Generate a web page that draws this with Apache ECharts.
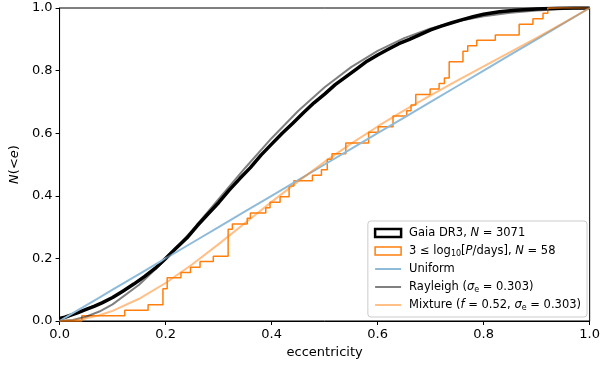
<!DOCTYPE html>
<html>
<head>
<meta charset="utf-8">
<script src="https://cdn.jsdelivr.net/npm/echarts@6/dist/echarts.min.js"></script>
<style>html,body{margin:0;padding:0;background:#fff;}#c{width:603px;height:369px;}</style>
</head>
<body>
<div id="c"></div>
<script>
// ---- data ----
const xTicks = [0.0, 0.2, 0.4, 0.6, 0.8, 1.0];
const yTicks = [0.0, 0.2, 0.4, 0.6, 0.8, 1.0];

// Gaia DR3 cumulative distribution (N = 3071)
const gaiaE = [0, 0.01, 0.02, 0.035, 0.05, 0.065, 0.08, 0.1, 0.12, 0.14, 0.16, 0.18, 0.2, 0.22, 0.24, 0.26, 0.28, 0.3, 0.32, 0.34, 0.36, 0.38, 0.4, 0.42, 0.44, 0.46, 0.48, 0.5, 0.52, 0.54, 0.56, 0.58, 0.6, 0.62, 0.64, 0.66, 0.68, 0.7, 0.72, 0.74, 0.76, 0.78, 0.8, 0.83, 0.86, 0.9, 0.94, 0.97, 1.0];
const gaiaCum = [0.008, 0.012, 0.018, 0.027, 0.037, 0.047, 0.058, 0.075, 0.096, 0.118, 0.142, 0.168, 0.2, 0.233, 0.265, 0.305, 0.342, 0.378, 0.418, 0.455, 0.49, 0.53, 0.565, 0.6, 0.632, 0.665, 0.697, 0.725, 0.755, 0.78, 0.805, 0.83, 0.85, 0.868, 0.886, 0.9, 0.915, 0.93, 0.942, 0.953, 0.963, 0.972, 0.98, 0.988, 0.993, 0.997, 0.999, 1.0, 1.0];

// subsample with 3 <= log10 P (N = 58), step positions
const subE = [0, 0.042, 0.123, 0.167, 0.195, 0.203, 0.229, 0.247, 0.265, 0.290, 0.318, 0.326, 0.354, 0.360, 0.389, 0.397, 0.416, 0.433, 0.442, 0.477, 0.494, 0.505, 0.514, 0.540, 0.583, 0.601, 0.629, 0.655, 0.663, 0.672, 0.699, 0.716, 0.726, 0.735, 0.761, 0.770, 0.787, 0.822, 0.867, 0.893, 0.912, 0.921, 1.0];
const subCum = [0, 0.017, 0.034, 0.052, 0.103, 0.138, 0.155, 0.172, 0.190, 0.207, 0.293, 0.310, 0.328, 0.345, 0.362, 0.379, 0.397, 0.431, 0.448, 0.466, 0.483, 0.517, 0.534, 0.569, 0.603, 0.621, 0.655, 0.672, 0.690, 0.724, 0.741, 0.759, 0.776, 0.828, 0.862, 0.879, 0.897, 0.914, 0.948, 0.966, 0.983, 1.0, 1.0];

// model curves
const modelE = [0, 0.025, 0.05, 0.075, 0.1, 0.15, 0.2, 0.25, 0.3, 0.35, 0.4, 0.45, 0.5, 0.55, 0.6, 0.65, 0.7, 0.75, 0.8, 0.85, 0.9, 0.95, 1.0];
const uniformCum = [0, 0.025, 0.05, 0.075, 0.1, 0.15, 0.2, 0.25, 0.3, 0.35, 0.4, 0.45, 0.5, 0.55, 0.6, 0.65, 0.7, 0.75, 0.8, 0.85, 0.9, 0.95, 1.0];
const rayleighCum = [0, 0.0034, 0.0136, 0.0302, 0.0532, 0.1158, 0.1965, 0.2897, 0.3891, 0.4889, 0.5841, 0.6709, 0.7469, 0.8110, 0.8629, 0.9037, 0.9346, 0.9574, 0.9736, 0.9846, 0.9922, 0.9970, 1.0];
const mixtureCum = [0, 0.0021, 0.0083, 0.0184, 0.0325, 0.0710, 0.1214, 0.1806, 0.2455, 0.3130, 0.3805, 0.4461, 0.5084, 0.5669, 0.6215, 0.6727, 0.7212, 0.7678, 0.8135, 0.8588, 0.9047, 0.9516, 1.0];

const legendLabels = {
  gaia: 'Gaia DR3, {i|N} = 3071',
  sub: '3 ≤ log{s|10}[{i|P}/days], {i|N} = 58',
  uni: 'Uniform',
  ray: 'Rayleigh ({i|σ}{s|e} = 0.303)',
  mix: 'Mixture ({i|f} = 0.52, {i|σ}{s|e} = 0.303)'
};

const zip = (a, b) => a.map((v, i) => [v, b[i]]);
const FONT = 'DejaVu Sans';
const hiddenDot = {color: 'rgba(0,0,0,0)', borderWidth: 0, opacity: 0};

const chart = echarts.init(document.getElementById('c'), null, {renderer: 'canvas'});
chart.setOption({
  animation: false,
  backgroundColor: '#fff',
  grid: {left: 56, right: 4, top: 8, bottom: 48, show: true, borderColor: '#000', borderWidth: 1, backgroundColor: 'transparent'},
  xAxis: {
    type: 'value', min: 0, max: 1, interval: 0.2,
    name: 'eccentricity', nameLocation: 'middle', nameGap: 25,
    nameTextStyle: {fontFamily: FONT, fontSize: 13, color: '#000'},
    axisLine: {show: true, lineStyle: {color: '#000', width: 1}},
    axisTick: {show: true, inside: false, length: 4, lineStyle: {color: '#000'}},
    axisLabel: {margin: 7, fontFamily: FONT, fontSize: 13, color: '#000', formatter: v => v.toFixed(1)},
    splitLine: {show: false}
  },
  yAxis: {
    type: 'value', min: 0, max: 1, interval: 0.2,
    name: '{i|N}(<{i|e})', nameLocation: 'middle', nameGap: 36, nameRotate: 90,
    nameTextStyle: {fontFamily: FONT, fontSize: 13, color: '#000', rich: {i: {fontFamily: FONT, fontSize: 13, fontStyle: 'italic', color: '#000'}}},
    axisLine: {show: true, lineStyle: {color: '#000', width: 1}},
    axisTick: {show: true, inside: false, length: 4, lineStyle: {color: '#000'}},
    axisLabel: {margin: 7, fontFamily: FONT, fontSize: 13, color: '#000', formatter: v => v.toFixed(1)},
    splitLine: {show: false}
  },
  legend: {
    orient: 'vertical', right: 16, bottom: 52, align: 'left',
    padding: [5, 6, 5, 6], itemGap: 4, itemWidth: 26, itemHeight: 8,
    backgroundColor: 'rgba(255,255,255,0.85)', borderColor: '#cccccc', borderWidth: 1, borderRadius: 3,
    textStyle: {
      fontFamily: FONT, fontSize: 11.5, color: '#000', lineHeight: 14, padding: [0, 0, 0, 3],
      rich: {
        i: {fontFamily: FONT, fontSize: 11.5, fontStyle: 'italic', color: '#000', lineHeight: 14},
        s: {fontFamily: FONT, fontSize: 8, color: '#000', lineHeight: 14, verticalAlign: 'bottom', padding: [5, 0, 0, 0]}
      }
    },
    formatter: name => legendLabels[name],
    data: [
      {name: 'gaia', icon: 'rect', itemStyle: {color: 'rgba(0,0,0,0)', borderColor: '#000', borderWidth: 2.5}},
      {name: 'sub', icon: 'rect', itemStyle: {color: 'rgba(0,0,0,0)', borderColor: '#ff7f0e', borderWidth: 1.5}},
      {name: 'uni', itemStyle: hiddenDot, lineStyle: {color: '#8fbbd9', width: 2}},
      {name: 'ray', itemStyle: hiddenDot, lineStyle: {color: '#808080', width: 2}},
      {name: 'mix', itemStyle: hiddenDot, lineStyle: {color: '#ffbf86', width: 2}}
    ]
  },
  series: [
    {name: 'gaia', type: 'line', data: zip(gaiaE, gaiaCum), symbol: 'none',
     lineStyle: {color: '#000', width: 3.5, join: 'round'}, itemStyle: {color: '#000'}, z: 2},
    {name: 'sub', type: 'line', step: 'end', data: zip(subE, subCum), symbol: 'none',
     lineStyle: {color: '#ff7f0e', width: 1.5}, itemStyle: {color: '#ff7f0e'}, z: 3},
    {name: 'uni', type: 'line', data: zip(modelE, uniformCum), symbol: 'none',
     lineStyle: {color: '#8fbbd9', width: 2}, itemStyle: {color: '#8fbbd9'}, z: 4},
    {name: 'ray', type: 'line', data: zip(modelE, rayleighCum), symbol: 'none',
     lineStyle: {color: 'rgba(0,0,0,0.5)', width: 2, join: 'round'}, itemStyle: {color: '#808080'}, z: 5},
    {name: 'mix', type: 'line', data: zip(modelE, mixtureCum), symbol: 'none',
     lineStyle: {color: 'rgba(255,127,14,0.5)', width: 2, join: 'round'}, itemStyle: {color: '#ffbf86'}, z: 6}
  ]
});
</script>
</body>
</html>
